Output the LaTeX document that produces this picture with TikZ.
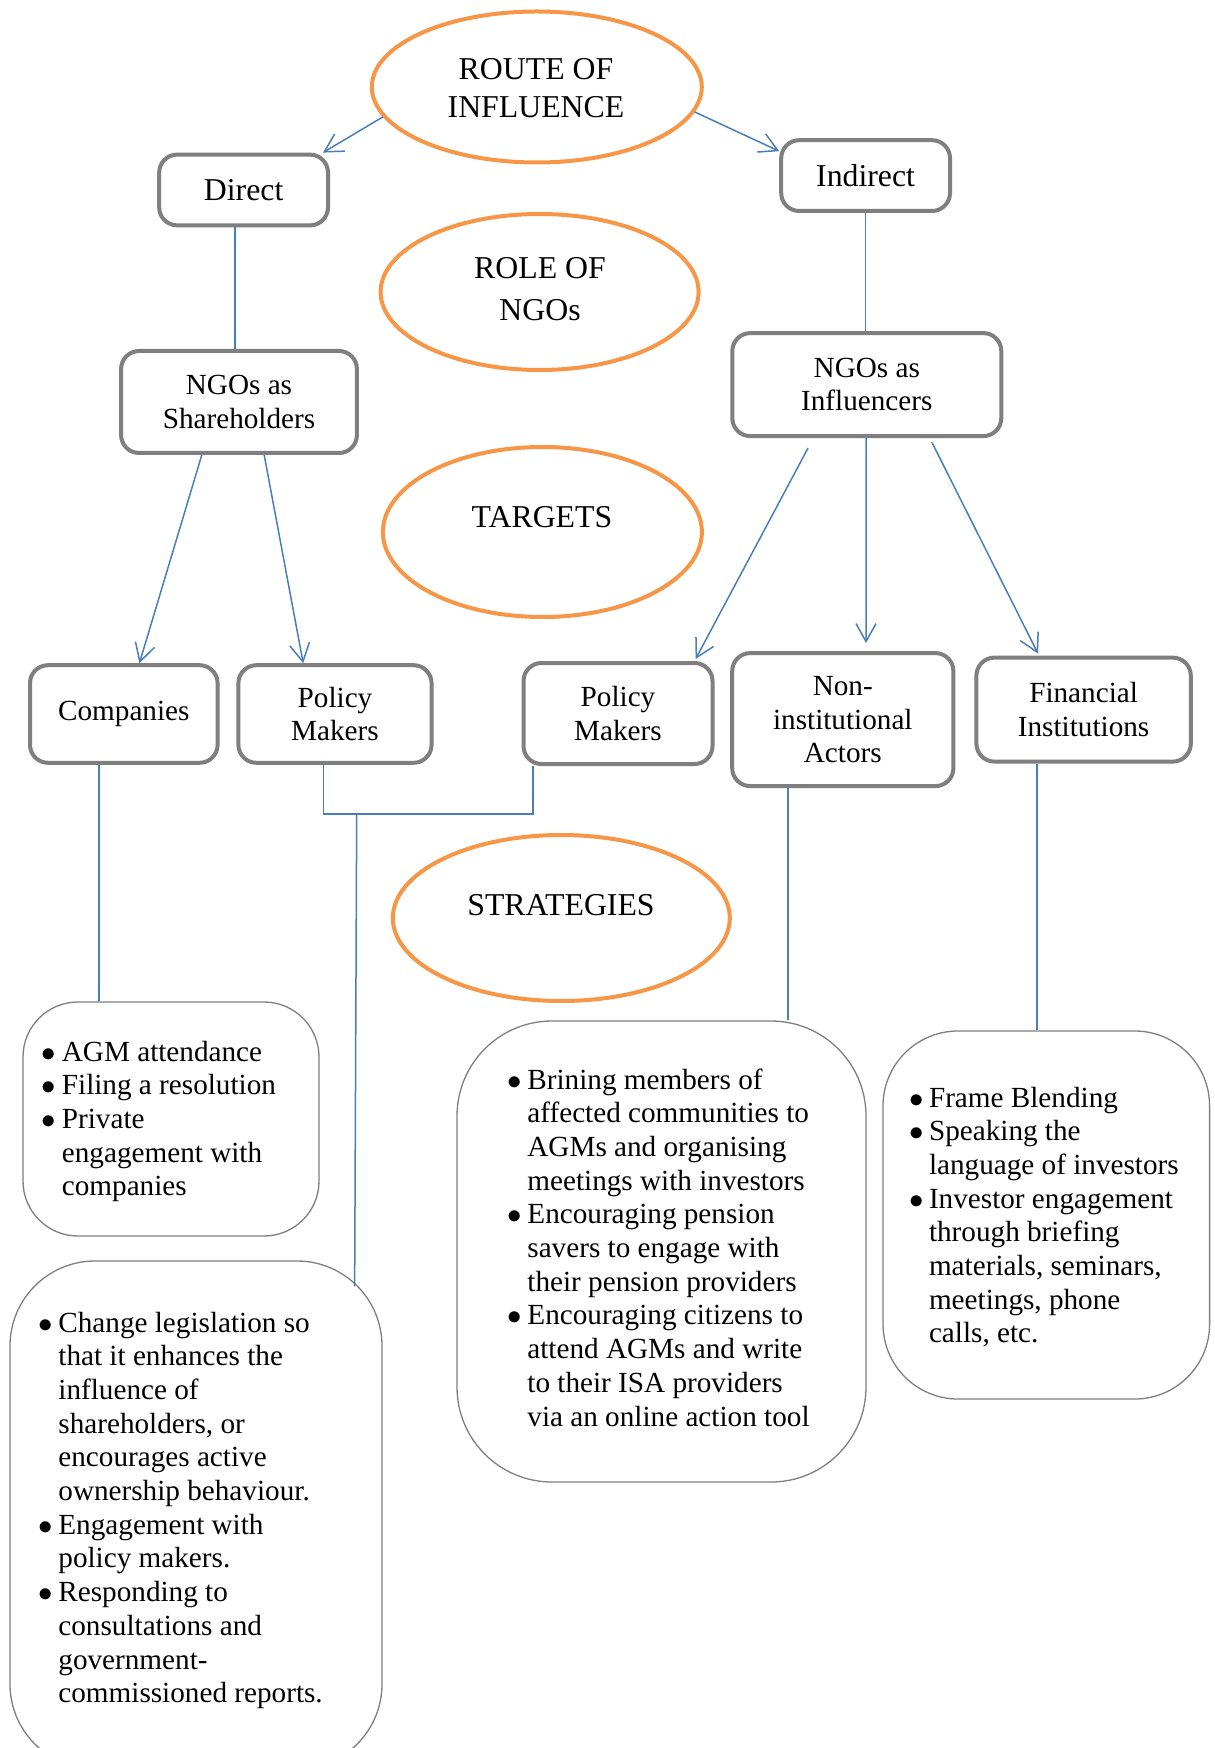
\documentclass[tikz,border=0pt]{standalone}
\usepackage{fontspec}
\setmainfont{Liberation Serif}
\usetikzlibrary{arrows.meta,calc,shapes.geometric}
\definecolor{conn}{HTML}{4A7EBB}
\definecolor{orng}{HTML}{F79646}
\definecolor{boxgray}{HTML}{7F7F7F}
\newcommand{\bul}[1]{\par\hangindent=10pt\hangafter=1\noindent\makebox[10pt][l]{$\bullet$}#1}
\newcommand{\blist}[2]{\parbox[t]{#1}{\fontsize{14.6}{16.85}\selectfont\raggedright #2}}
\begin{document}
\begin{tikzpicture}[x=0.5pt,y=-0.5pt,
  oval/.style={ellipse, draw=orng, line width=2pt, inner sep=0pt},
  ovaltext/.style={font=\fontsize{15.9}{19}\selectfont, align=center, inner sep=0pt},
  tbox/.style={draw=boxgray, line width=2pt, rounded corners=9pt, align=center, inner sep=0pt, font=\fontsize{14.6}{16.7}\selectfont},
  bigtext/.style={font=\fontsize{15.9}{19}\selectfont},
  bbox/.style={draw=boxgray, line width=0.65pt, inner sep=0pt},
  btext/.style={anchor=base west, inner sep=0pt},
  link/.style={draw=conn, line width=0.75pt},
  arr/.style={link, -{Straight Barb[length=9pt,width=10pt]}},
]
\useasboundingbox (0,0) rectangle (1214,1748);
\clip (0,0) rectangle (1214,1748);
\fill[white] (0,0) rectangle (1214,1748);

% ellipses
\node[oval, minimum width=165pt, minimum height=75.5pt] (route) at (536.8,87) {};
\node[ovaltext] (routet) at (536,88) {ROUTE OF\\INFLUENCE};
\node[oval, minimum width=159pt, minimum height=78pt] (role) at (539.6,292) {};
\node[ovaltext, font=\fontsize{15.9}{21.2}\selectfont] (rolet) at (540,289) {ROLE OF\\NGOs};
\node[oval, minimum width=159.5pt, minimum height=85pt] (targets) at (542.4,532) {};
\node[ovaltext] (targetst) at (542,517) {TARGETS};
\node[oval, minimum width=168.5pt, minimum height=83pt] (strat) at (561.3,918) {};
\node[ovaltext] (stratt) at (561,905) {STRATEGIES};

% boxes
\node[tbox, bigtext, minimum width=84.4pt, minimum height=35.4pt] (direct) at (243.6,190) {Direct};
\node[tbox, bigtext, minimum width=84.4pt, minimum height=35.4pt] (indirect) at (865.6,175.6) {Indirect};
\node[tbox, minimum width=117.9pt, minimum height=51pt] (sh) at (239,402) {NGOs as\\Shareholders};
\node[tbox, minimum width=134.5pt, minimum height=51.5pt] (infl) at (866.8,384.6) {NGOs as\\Influencers};
\node[tbox, minimum width=93.8pt, minimum height=48.8pt] (comp) at (123.8,714) {Companies};
\node[tbox, minimum width=96.6pt, minimum height=48.8pt] (polL) at (335,714) {Policy\\Makers};
\node[tbox, minimum width=94.5pt, minimum height=50.5pt] (polR) at (618,713.5) {Policy\\Makers};
\node[tbox, minimum width=110.6pt, minimum height=66.5pt] (noninst) at (842.8,719.6) {Non-\\institutional\\Actors};
\node[tbox, minimum width=107.2pt, minimum height=52pt] (fin) at (1083.6,709.6) {Financial\\Institutions};

% bullet boxes
\node[bbox, rounded corners=27.5pt, minimum width=148pt, minimum height=117pt] (b1) at (171,1119) {};
\node[bbox, rounded corners=42.5pt, minimum width=186pt, minimum height=254pt] (b2) at (196,1515) {};
\node[bbox, rounded corners=47.5pt, minimum width=204.5pt, minimum height=230.5pt] (b3) at (661.5,1251.5) {};
\node[bbox, rounded corners=37.5pt, minimum width=163.3pt, minimum height=184pt] (b4) at (1046.3,1215) {};

\node[btext] (t1) at (41.5,1061) {\blist{150pt}{\bul{AGM attendance}\bul{Filing a resolution}\bul{Private\newline engagement with\newline companies}}};
\node[btext] (t2) at (38,1332) {\blist{170pt}{\bul{Change legislation so\newline that it enhances the\newline influence of\newline shareholders, or\newline encourages active\newline ownership behaviour.}\bul{Engagement with\newline policy makers.}\bul{Responding to\newline consultations and\newline government-\newline commissioned reports.}}};
\node[btext] (t3) at (507,1089) {\blist{180pt}{\bul{Brining members of\newline affected communities to\newline AGMs and organising\newline meetings with investors}\bul{Encouraging pension\newline savers to engage with\newline their pension providers}\bul{Encouraging citizens to\newline attend AGMs and write\newline to their ISA providers\newline via an online action tool}}};
\node[btext] (t4) at (908.6,1107) {\blist{150pt}{\bul{Frame Blending}\bul{Speaking the\newline language of investors}\bul{Investor engagement\newline through briefing\newline materials, seminars,\newline meetings, phone\newline calls, etc.}}};

% connectors
\draw[arr] (route.191) -- ($(direct.north east)+(-7,0)$);
\draw[arr] (route.-9) -- ($(indirect.north west)+(0,13)$);
\coordinate (c1) at ($(direct.south)+(-8.4,0)$);
\draw[link] (c1) -- (c1 |- sh.north);
\draw[link] (indirect.south) -- (indirect.south |- infl.north);
\draw[arr] ($(sh.south)+(-37.2,0)$) -- ($(comp.north)+(15.6,0)$);
\draw[arr] ($(sh.south)+(25.2,0)$) -- ($(polL.north)+(-31.8,0)$);
\draw[arr] ($(infl.south)+(-58.8,10)$) -- ($(polR.north)+(77.6,-2)$);
\draw[arr] ($(infl.south)+(-0.8,0)$) -- ($(noninst.north)+(23.2,-8)$);
\draw[arr] ($(infl.south)+(65,4)$) -- ($(fin.north)+(-45.6,-2)$);
\coordinate (c2) at ($(comp.south)+(-24.6,0)$);
\draw[link] (c2) -- (c2 |- b1.north);
\coordinate (pl) at ($(polL.south)+(-11.7,0)$);
\coordinate (pr) at ($(polR.south)+(-85,0)$);
\draw[link] (pl) -- ++(0,49) -| (pr);
\coordinate (j1) at ($(pl)+(33.4,49)$);
\coordinate (b2c) at ($(b2.north east)+(-28,26)$);
\draw[link] (j1) -- (b2c);
\coordinate (c3) at ($(noninst.south)+(-54.8,0)$);
\draw[link] (c3) -- (c3 |- b3.north);
\coordinate (c4) at ($(fin.south)+(-46.6,0)$);
\draw[link] (c4) -- (c4 |- b4.north);
\end{tikzpicture}
\end{document}
